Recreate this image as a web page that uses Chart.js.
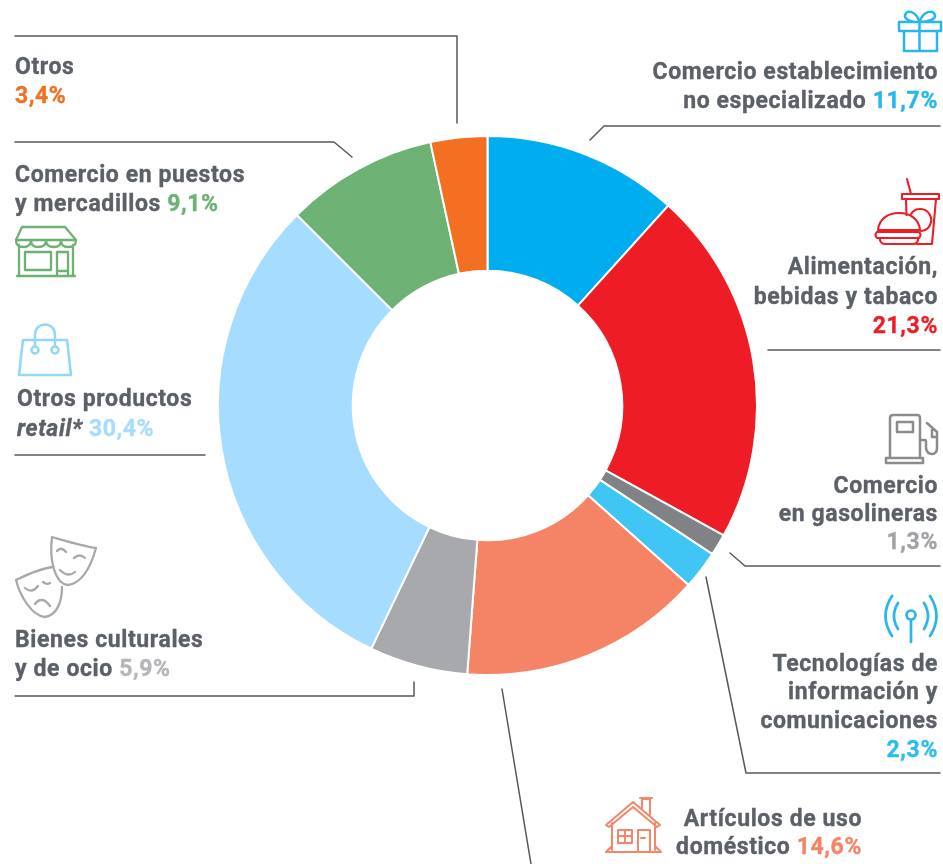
<!DOCTYPE html>
<html lang="es">
<head>
<meta charset="utf-8">
<title>Distribución por sectores</title>
<style>
html,body{margin:0;padding:0;background:#fff;}
#wrap{position:relative;width:943px;height:864px;overflow:hidden;}
canvas{display:block;}
</style>
<script src="https://cdn.jsdelivr.net/npm/chart.js@4"></script>
</head>
<body>
<div id="wrap"><canvas id="c" width="943" height="864"></canvas></div>
<script>
const categories = [
  "Comercio establecimiento no especializado",
  "Alimentación, bebidas y tabaco",
  "Comercio en gasolineras",
  "Tecnologías de información y comunicaciones",
  "Artículos de uso doméstico",
  "Bienes culturales y de ocio",
  "Otros productos retail*",
  "Comercio en puestos y mercadillos",
  "Otros"
];
const values = [11.7, 21.3, 1.3, 2.3, 14.6, 5.9, 30.4, 9.1, 3.4];
const sliceColors = ["#00aeef","#ee1c25","#808285","#3fc6f4","#f58466","#a7a9ac","#a6dcff","#6db175","#f36f21"];
const percentColors = ["#29b6ec","#ee1c25","#a0a2a5","#29bdf0","#f58466","#b4b6b9","#a6dcff","#6db175","#f36f21"];

const TEXT = "#5c6067";
const FONT = '700 23px Roboto, "Liberation Sans", sans-serif';
const FONT_I = 'italic 700 23px Roboto, "Liberation Sans", sans-serif';
const TRACKING = "0.6px";

/* Each label block: slice index, anchor x, alignment, and lines of runs. "%" is replaced by the slice's value. */
const labels = [
  {i:0,x:938,a:"right",lines:[[79,"Comercio establecimiento"],[108,"no especializado ","%"]]},
  {i:1,x:938,a:"right",lines:[[274,"Alimentación,"],[304,"bebidas y tabaco"],[333,"%"]]},
  {i:2,x:938,a:"right",lines:[[493,"Comercio"],[521,"en gasolineras"],[549,"%"]]},
  {i:3,x:938,a:"right",lines:[[671,"Tecnologías de"],[699,"información y"],[728,"comunicaciones"],[757,"%"]]},
  {i:4,x:862,a:"right",lines:[[826,"Artículos de uso"],[854,"doméstico ","%"]]},
  {i:5,x:15,a:"left",lines:[[647,"Bienes culturales"],[676,"y de ocio ","%"]]},
  {i:6,x:17,a:"left",lines:[[406,"Otros productos"],[436,"*retail*"," ","%"]]},
  {i:7,x:15,a:"left",lines:[[182,"Comercio en puestos"],[211,"y mercadillos ","%"]]},
  {i:8,x:15,a:"left",lines:[[74,"Otros"],[103,"%"]]}
];

const leaders = [
  "M15 36H457V123",
  "M15 142H334L352 157",
  "M15 455H205",
  "M15 696H414V682",
  "M502 689L531 864",
  "M706 577L746 773H940",
  "M730 553L745 566H940",
  "M768 350H940",
  "M590 140L604 126H940"
];

const icons = [
  {c:"#29b6ec",w:2.5,p:"M899 22H941V31H899ZM904 31V51H937V31M919.5 22V51M919.5 22C910 22 904 19 905 15C907 9 916 11 919.5 22C923 11 933 9 935 15C936 19 929 22 919.5 22Z"},
  {c:"#ee1c25",w:2.1,p:"M907 179L911 194M902 194H939V199H902ZM906 199L906.5 215M936 199L932 244H917M878 230C879 219 888 213 899 213C910 213 919 219 920 230ZM877 232H919Q922 235 919 238H877Q874 235 877 232ZM880 238V240Q881 244 885 244H913Q917 244 918 240V238M911 214A11 11 0 1 1 921 231"},
  {c:"#8a8c8e",w:2.5,p:"M890 458V418Q890 415 893 415H917Q920 415 920 418V458M886 458H923V463H886ZM897 422H913V432H897ZM920 440H925Q926 440 926 442V448Q927 454 932 454Q937 454 937 448V432L927 423M932 430V437H937"},
  {c:"#29b6ec",w:2.7,p:"M915.5 615A4.5 4.5 0 1 1 906.5 615A4.5 4.5 0 1 1 915.5 615ZM911 620V642M898 603Q890 616 898 629M924 603Q932 616 924 629M892 596Q879 616 892 636M930 596Q943 616 930 636"},
  {c:"#f4866a",w:2,p:"M606 825L633 802L660 825L657 827L633 807L609 827ZM612 823V850M655 823V850M642 808V799H650V815M640 798H652M606 852H661M606 852L612 846M661 852L655 846M618 830H632V843H618ZM625 830V843M618 836H632M638 852V830H650V852M641 838H645"},
  {c:"#a7a9ac",w:2.3,p:"M52 537C66 541 82 546 96 548C91 566 82 583 68 585C55 584 49 560 52 537ZM52 567C40 569 28 574 16 580C20 596 32 616 45 617C57 615 62 602 62 587M57 551Q61 546 66 552M74 558Q80 553 85 558M60 570Q68 578 75 572M25 588Q32 594 38 586M43 582Q47 585 50 583M35 604Q42 595 50 606"},
  {c:"#92d6f8",w:2.5,p:"M23 340H67L71 375H19ZM35 346V335C35 321 55 321 55 335V346M38.5 350A3.5 3.5 0 1 1 31.5 350A3.5 3.5 0 1 1 38.5 350ZM58.5 350A3.5 3.5 0 1 1 51.5 350A3.5 3.5 0 1 1 58.5 350Z"},
  {c:"#6db175",w:2.3,p:"M22 227H65L76 240H16ZM16 240Q16 247 23 247Q31 247 31 240Q31 247 38 247Q46 247 46 240Q46 247 54 247Q61 247 61 240Q61 247 68 247Q76 247 76 240M19 245V276M73 245V276M17 276H75M25 252H51V270H25ZM57 276V252H68V276M57 271H68"}
];

function pct(v){ return v.toFixed(1).replace(".", ",") + "%"; }

const overlay = {
  id:"overlay",
  afterDraw(chart){
    const ctx = chart.ctx;
    ctx.save();
    ctx.lineCap="round"; ctx.lineJoin="round";
    ctx.strokeStyle="#55585c"; ctx.lineWidth=1.5;
    leaders.forEach(d=>ctx.stroke(new Path2D(d)));
    icons.forEach(ic=>{ctx.strokeStyle=ic.c;ctx.lineWidth=ic.w;ctx.stroke(new Path2D(ic.p));});
    ctx.textBaseline="alphabetic"; ctx.textAlign="left";
    ctx.letterSpacing=TRACKING;
    ctx.lineWidth=0.35;
    labels.forEach(b=>{
      b.lines.forEach(l=>{
        const y=l[0];
        const runs=l.slice(1).map(t=>{
          if(t==="%") return {t:pct(values[b.i]),c:percentColors[b.i],f:FONT};
          if(t.startsWith("*retail")) return {t:"retail*",c:TEXT,f:FONT_I};
          return {t:t,c:TEXT,f:FONT};
        });
        let total=0;
        runs.forEach(r=>{ctx.font=r.f;r.w=ctx.measureText(r.t).width;total+=r.w;});
        let x=b.a==="right"?b.x-total:b.x;
        runs.forEach(r=>{
          ctx.font=r.f;ctx.fillStyle=r.c;ctx.strokeStyle=r.c;
          ctx.fillText(r.t,x,y);ctx.strokeText(r.t,x,y);
          x+=r.w;
        });
      });
    });
    ctx.restore();
  }
};

new Chart(document.getElementById("c"),{
  type:"doughnut",
  data:{labels:categories,datasets:[{data:values,backgroundColor:sliceColors,borderColor:"#ffffff",borderWidth:2,hoverOffset:0}]},
  options:{
    responsive:false,animation:false,cutout:"50%",rotation:0,circumference:360,
    layout:{padding:{left:217,right:185,top:134,bottom:187}},
    plugins:{legend:{display:false},tooltip:{enabled:false},title:{display:false}}
  },
  plugins:[overlay]
});
</script>
</body>
</html>
